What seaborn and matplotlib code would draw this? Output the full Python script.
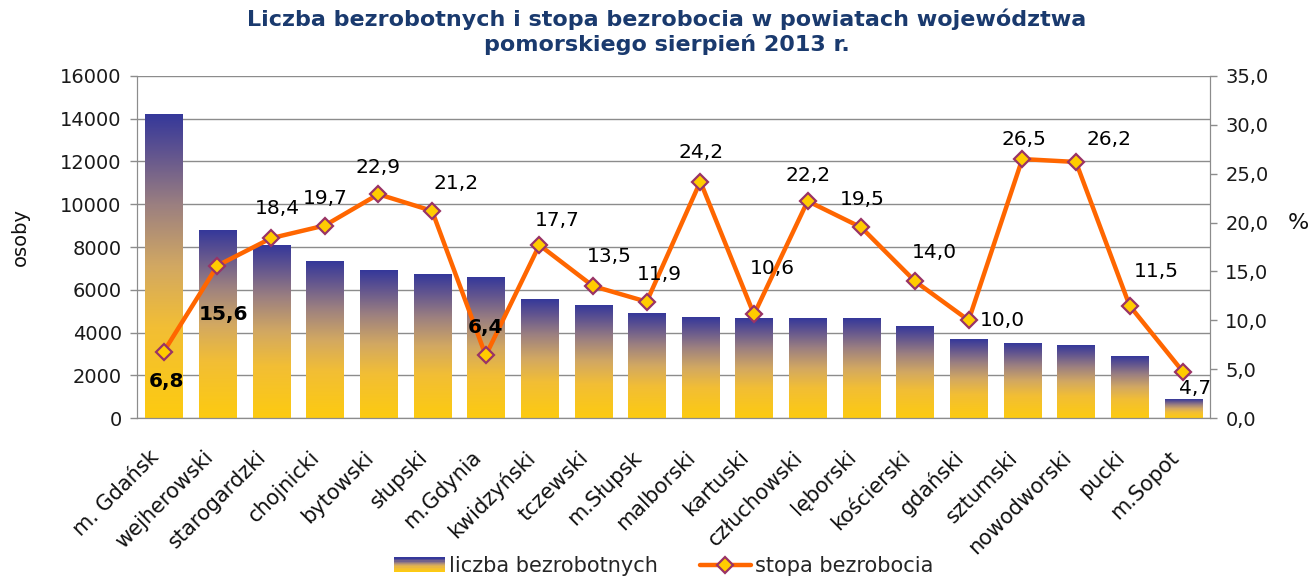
import numpy as np
import pandas as pd
import matplotlib
matplotlib.use('Agg')
import matplotlib.pyplot as plt
import matplotlib.transforms as mtransforms
from matplotlib.colors import LinearSegmentedColormap
from matplotlib.legend_handler import HandlerBase
from matplotlib.patches import Rectangle
from matplotlib.lines import Line2D
import seaborn as sns

powiaty = ['m. Gdańsk', 'wejherowski', 'starogardzki', 'chojnicki', 'bytowski',
           'słupski', 'm.Gdynia', 'kwidzyński', 'tczewski', 'm.Słupsk',
           'malborski', 'kartuski', 'człuchowski', 'lęborski', 'kościerski',
           'gdański', 'sztumski', 'nowodworski', 'pucki', 'm.Sopot']
bezrobotni = [14200, 8750, 8050, 7300, 6880, 6700, 6550, 5520, 5280, 4870,
              4680, 4650, 4640, 4640, 4270, 3660, 3470, 3380, 2900, 850]
stopa = [6.8, 15.6, 18.4, 19.7, 22.9, 21.2, 6.4, 17.7, 13.5, 11.9,
         24.2, 10.6, 22.2, 19.5, 14.0, 10.0, 26.5, 26.2, 11.5, 4.7]

# label placement (pixels) and which labels are bold
lab_off = [(3, -30), (6, -49), (6, 30), (0, 27), (0, 27), (24, 27), (0, 28),
           (18, 25), (16, 30), (13, 27), (1, 29), (18, 46), (0, 26), (1, 28),
           (19, 29), (34, 0), (2, 20), (33, 22), (27, 34), (12, -16)]
bold_idx = [0, 1, 6]

df = pd.DataFrame({'powiat': powiaty, 'liczba': bezrobotni, 'stopa': stopa})

sns.set_style('white')
plt.rcParams['font.family'] = ['DejaVu Sans']

grad_cmap = LinearSegmentedColormap.from_list(
    'bar', [(0.0, '#FDCB10'), (0.3, '#F2BE35'), (0.5, '#D2A862'),
            (0.7, '#9C8080'), (0.87, '#62558F'), (1.0, '#35389A')])
grey = '#8C8C8C'

fig = plt.figure(figsize=(13.12, 5.84), dpi=100)
ax = fig.add_axes([0.1044, 0.2842, 0.8179, 0.5857])

sns.barplot(data=df, x='powiat', y='liczba', ax=ax, width=0.69,
            color='#35389A', saturation=1, linewidth=0)

# gradient fill for each bar
grad = np.linspace(0, 1, 256).reshape(-1, 1)
for p in ax.patches:
    x0, w, h = p.get_x(), p.get_width(), p.get_height()
    p.set_facecolor('none')
    ax.imshow(grad, extent=[x0, x0 + w, 0, h], origin='lower', aspect='auto',
              cmap=grad_cmap, zorder=2)

ax.set_ylim(0, 16000)
ax.set_yticks(range(0, 16001, 2000))
ax.set_axisbelow(True)
ax.yaxis.grid(True, color=grey, linewidth=1)
ax.set_xlabel('')
ax.set_ylabel('osoby', fontsize=14, color='#111111')
ax.yaxis.set_label_coords(-0.1, 0.53)

ax2 = ax.twinx()
sns.lineplot(data=df, x='powiat', y='stopa', ax=ax2, sort=False,
             color='#FF6600', linewidth=3.2, marker='D', markersize=8,
             markerfacecolor='#FFCC00', markeredgecolor='#993366',
             markeredgewidth=1.6, zorder=5)
ax2.set_ylim(0, 35)
ax2.set_yticks(np.arange(0, 35.1, 5))
ax2.set_yticklabels([f'{v:.1f}'.replace('.', ',') for v in np.arange(0, 35.1, 5)])
ax2.set_ylabel('%', rotation=0, fontsize=16, color='#111111')
ax2.yaxis.set_label_coords(1.082, 0.6)
ax2.set_xlabel('')

for i, v in enumerate(stopa):
    dx, dy = lab_off[i]
    ax2.annotate(f'{v:.1f}'.replace('.', ','), xy=(i, v), xytext=(dx, dy),
                 textcoords='offset pixels', ha='center', va='center',
                 fontsize=14.5,
                 fontweight='bold' if i in bold_idx else 'normal',
                 color='black', zorder=6)

for a in (ax, ax2):
    a.spines['top'].set_visible(False)
    for s in ('left', 'right', 'bottom'):
        a.spines[s].set_color(grey)
    a.tick_params(axis='y', colors='#1a1a1a', labelsize=14, length=5,
                  width=1, color=grey, pad=6)

ax.set_xlim(-0.5, len(powiaty) - 0.5)
ax.set_xticks(range(len(powiaty)))
ax.set_xticklabels(powiaty, rotation=45, ha='right', va='top',
                   rotation_mode='anchor', fontsize=15, color='#111111')
ax.tick_params(axis='x', length=5, width=1, color=grey, pad=16, direction='out')
shift = mtransforms.ScaledTranslation(-15 / 100, 0, fig.dpi_scale_trans)
for lbl in ax.get_xticklabels():
    lbl.set_transform(lbl.get_transform() + shift)

fig.text(0.508, 0.985,
         'Liczba bezrobotnych i stopa bezrobocia w powiatach województwa\npomorskiego sierpień 2013 r.',
         ha='center', va='top', fontsize=16, fontweight='bold',
         color='#1A3A6E', linespacing=1.2)


class GradHandler(HandlerBase):
    def create_artists(self, legend, orig_handle, xdescent, ydescent,
                       width, height, fontsize, trans):
        n = 12
        arts = []
        for k in range(n):
            r = Rectangle((-xdescent, -ydescent + height * k / n), width,
                          height / n + 0.3, facecolor=grad_cmap(k / (n - 1)),
                          edgecolor='none', transform=trans)
            arts.append(r)
        return arts


bar_handle = Rectangle((0, 0), 1, 1)
line_handle = Line2D([], [], color='#FF6600', linewidth=3.2, marker='D',
                     markersize=8, markerfacecolor='#FFCC00',
                     markeredgecolor='#993366', markeredgewidth=1.6)
fig.legend([bar_handle, line_handle], ['liczba bezrobotnych', 'stopa bezrobocia'],
           handler_map={Rectangle: GradHandler()}, loc='center',
           bbox_to_anchor=(0.506, 0.03), ncol=2, frameon=False, fontsize=15,
           handlelength=2.45, handletextpad=0.2, columnspacing=2.0,
           borderpad=0.1)

fig.savefig('out.png', dpi=100)
